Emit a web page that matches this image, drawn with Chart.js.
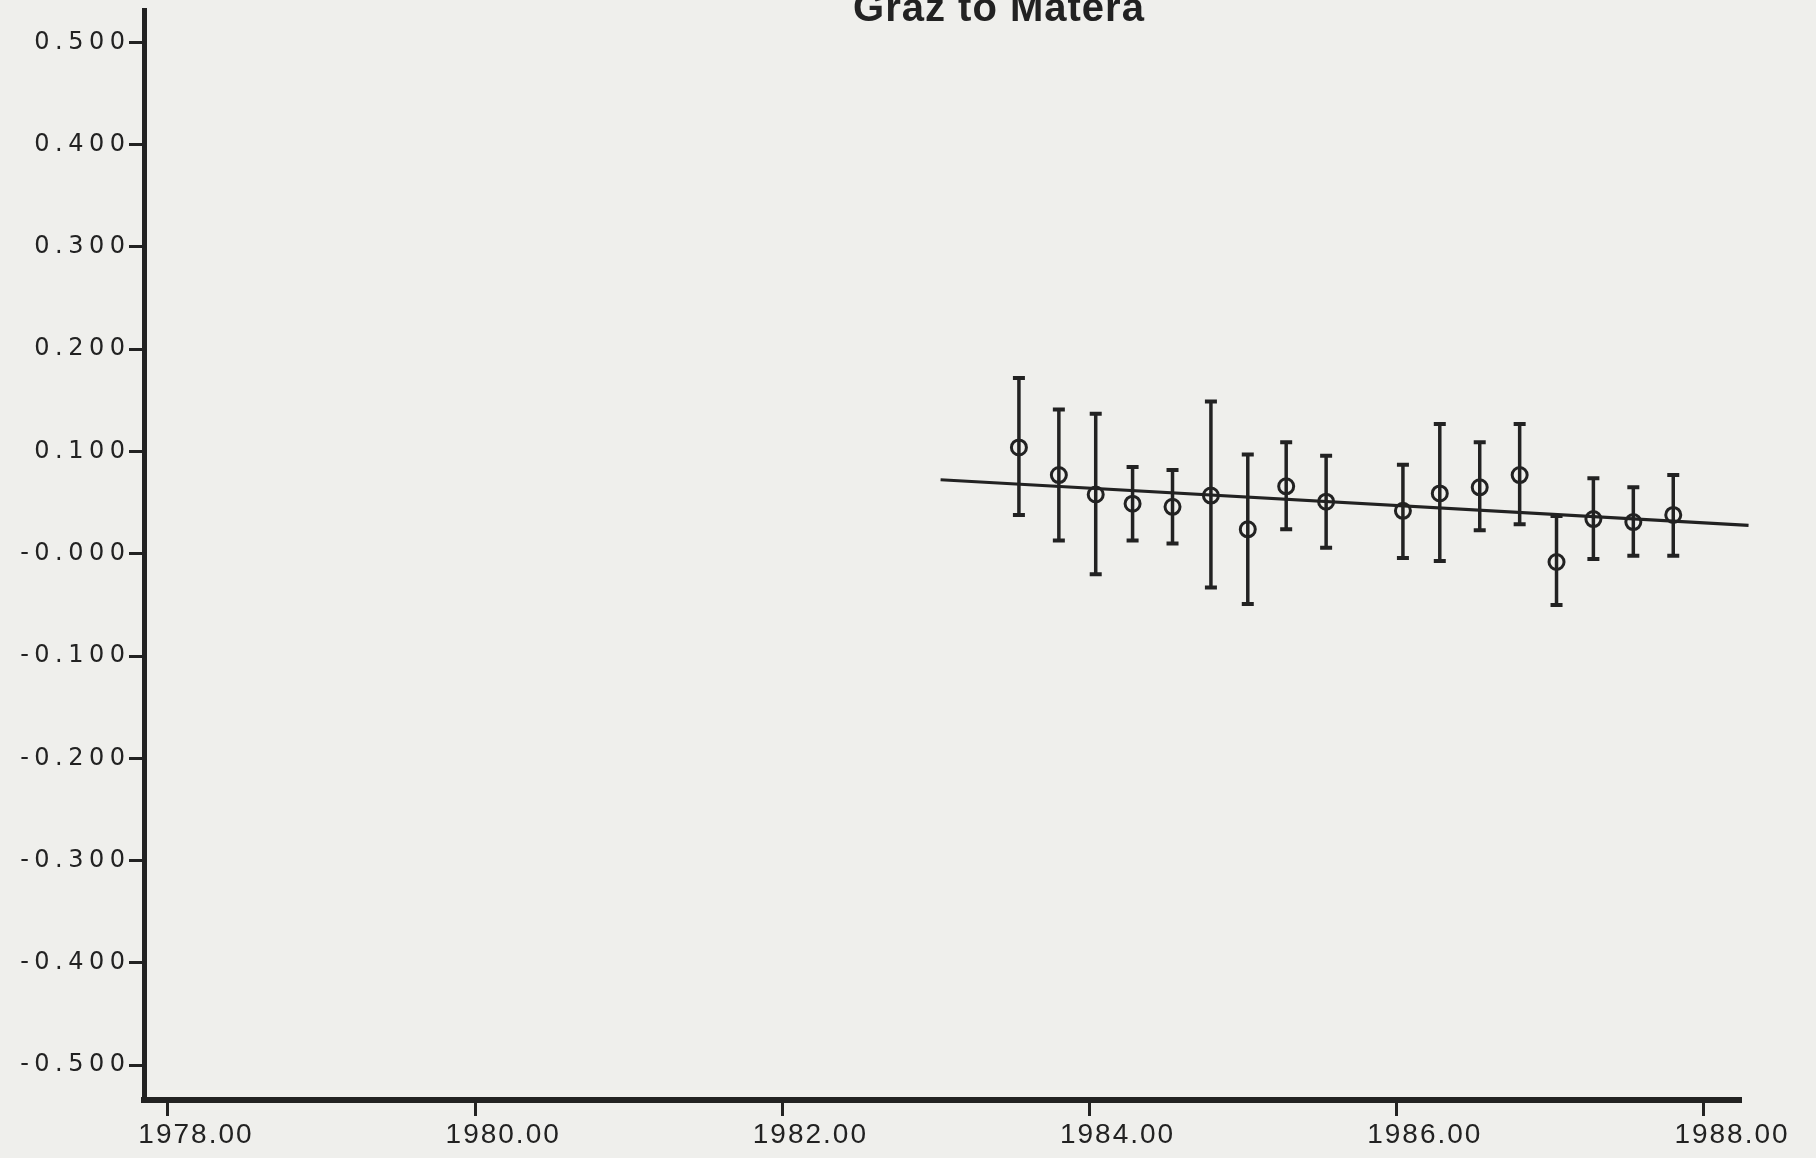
<!DOCTYPE html>
<html>
<head>
<meta charset="utf-8">
<script src="https://cdn.jsdelivr.net/npm/chart.js@4.4.1/dist/chart.umd.min.js"></script>
<style>
html,body{margin:0;padding:0;background:#efefec;overflow:hidden}
#wrap{position:absolute;left:0;top:0;width:1816px;height:1158px}
</style>
</head>
<body>
<div id="wrap"><canvas id="c" width="1816" height="1158"></canvas></div>
<script>
// ---- data ----
const titleText = 'Graz to Matera';
const years  = [1983.54, 1983.80, 1984.04, 1984.28, 1984.54, 1984.79, 1985.03, 1985.28, 1985.54,
                1986.04, 1986.28, 1986.54, 1986.80, 1987.04, 1987.28, 1987.54, 1987.80];
const values = [0.104, 0.077, 0.058, 0.049, 0.046, 0.057, 0.024, 0.066, 0.051,
                0.042, 0.059, 0.065, 0.077, -0.008, 0.034, 0.031, 0.038];
const upper  = [0.172, 0.141, 0.137, 0.085, 0.082, 0.149, 0.097, 0.109, 0.096,
                0.087, 0.127, 0.109, 0.127, 0.037, 0.074, 0.065, 0.077];
const lower  = [0.038, 0.013, -0.020, 0.013, 0.010, -0.033, -0.049, 0.024, 0.006,
                -0.004, -0.007, 0.023, 0.029, -0.050, -0.005, -0.002, -0.002];
const fitYears  = [1983.03, 1988.29];
const fitValues = [0.0724, 0.0278];
const xTickValues = [1978, 1980, 1982, 1984, 1986, 1988];
const xTickLabels = ['1978.00', '1980.00', '1982.00', '1984.00', '1986.00', '1988.00'];
const yTickValues = [-0.5, -0.4, -0.3, -0.2, -0.1, 0, 0.1, 0.2, 0.3, 0.4, 0.5];
const yTickLabels = ['-0.500', '-0.400', '-0.300', '-0.200', '-0.100', '-0.000',
                     '0.100', '0.200', '0.300', '0.400', '0.500'];
const xRange = [1977.844, 1988.241];
const yRange = [-0.534, 0.5312];

// ---- styling ----
const INK = '#222222';
const FONT = '"Liberation Sans", Arial, Helvetica, sans-serif';
const YFONT = '"DejaVu Sans", "Liberation Sans", sans-serif';

const letterSpacingPlugin = {
  id: 'letterSpacing',
  beforeDraw(chart) {
    const spacing = { x: '2px', y: '5.5px' };
    Object.keys(spacing).forEach(id => {
      const s = chart.scales[id];
      if (s && !s.__ls) {
        const orig = s.drawLabels;
        s.drawLabels = function (area) {
          const ctx = this.ctx;
          const prev = ctx.letterSpacing;
          ctx.letterSpacing = spacing[id];
          orig.call(this, area);
          ctx.letterSpacing = prev || '0px';
        };
        s.__ls = true;
      }
    });
  }
};

const errorBarPlugin = {
  id: 'errorBars',
  beforeDatasetsDraw(chart) {
    const { ctx, scales: { x, y } } = chart;
    ctx.save();
    ctx.strokeStyle = INK;
    ctx.lineCap = 'butt';
    years.forEach((yr, i) => {
      const px = x.getPixelForValue(yr);
      const top = y.getPixelForValue(upper[i]);
      const bot = y.getPixelForValue(lower[i]);
      ctx.lineWidth = 3.5;
      ctx.beginPath();
      ctx.moveTo(px, top); ctx.lineTo(px, bot);
      ctx.stroke();
      ctx.lineWidth = 4;
      ctx.beginPath();
      ctx.moveTo(px - 6, top); ctx.lineTo(px + 6, top);
      ctx.moveTo(px - 6, bot); ctx.lineTo(px + 6, bot);
      ctx.stroke();
    });
    ctx.restore();
  }
};

const titlePlugin = {
  id: 'topTitle',
  afterDraw(chart) {
    const ctx = chart.ctx;
    ctx.save();
    ctx.font = 'bold 40px ' + FONT;
    ctx.letterSpacing = '1px';
    ctx.fillStyle = INK;
    ctx.textAlign = 'center';
    ctx.textBaseline = 'alphabetic';
    ctx.fillText(titleText, 999, 21);
    ctx.restore();
  }
};

new Chart(document.getElementById('c'), {
  type: 'scatter',
  data: {
    datasets: [
      {
        label: 'fit',
        data: fitYears.map((x, i) => ({ x, y: fitValues[i] })),
        showLine: true,
        borderColor: INK,
        borderWidth: 3.2,
        pointRadius: 0,
        clip: false
      },
      {
        label: 'Graz to Matera',
        data: years.map((x, i) => ({ x, y: values[i] })),
        showLine: false,
        pointStyle: 'circle',
        pointRadius: 7.5,
        borderWidth: 3,
        borderColor: INK,
        backgroundColor: 'rgba(0,0,0,0)',
        clip: false
      }
    ]
  },
  options: {
    responsive: false,
    animation: false,
    devicePixelRatio: 1,
    layout: { padding: { left: 0, top: 9, right: 75, bottom: 0 } },
    plugins: {
      legend: { display: false },
      tooltip: { enabled: false },
      title: { display: false }
    },
    scales: {
      x: {
        type: 'linear',
        position: 'bottom',
        min: xRange[0],
        max: xRange[1],
        afterBuildTicks: s => { s.ticks = xTickValues.map(v => ({ value: v })); },
        afterFit: s => { s.height = 58; s.paddingLeft = 0; s.paddingRight = 0; },
        ticks: {
          autoSkip: false,
          maxRotation: 0,
          padding: 2,
          labelOffset: 28,
          color: INK,
          font: { family: FONT, size: 28 },
          callback: (v, i) => xTickLabels[i]
        },
        grid: {
          display: true,
          drawOnChartArea: false,
          drawTicks: true,
          tickLength: 16,
          tickWidth: 3,
          tickColor: INK,
          color: INK
        },
        border: { display: true, width: 6, color: INK }
      },
      y: {
        type: 'linear',
        position: 'left',
        min: yRange[0],
        max: yRange[1],
        afterBuildTicks: s => { s.ticks = yTickValues.map(v => ({ value: v })); },
        afterFit: s => { s.width = 144; s.paddingTop = 0; s.paddingBottom = 0; },
        ticks: {
          autoSkip: false,
          padding: -1.5,
          color: INK,
          font: { family: YFONT, size: 24 },
          callback: (v, i) => yTickLabels[i]
        },
        grid: {
          display: true,
          drawOnChartArea: false,
          drawTicks: true,
          tickLength: 15,
          tickWidth: 3,
          tickColor: INK,
          color: INK
        },
        border: { display: true, width: 5, color: INK }
      }
    }
  },
  plugins: [letterSpacingPlugin, errorBarPlugin, titlePlugin]
});
</script>
</body>
</html>
